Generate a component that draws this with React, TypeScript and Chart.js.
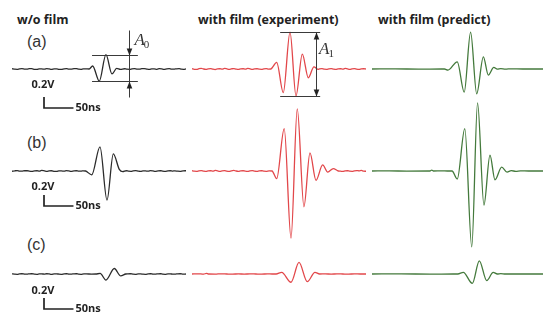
import React, { useEffect, useRef } from "react";
import { Chart, registerables } from "chart.js";

Chart.register(...registerables);

// ---------- data: [time (ns), voltage (V)] ----------
const woFilmA: [number, number][] = [
  [0, 0.005], [5, -0.004], [9, -0.006], [13, 0.003], [17, 0.008], [22, -0.002], [26, -0.004], [30, 0.006],
  [34, 0.005], [39, -0.006], [43, -0.008], [47, 0.003], [51, 0.003], [56, -0.004], [60, 0.008], [64, 0.002],
  [68, -0.005], [73, 0.004], [77, 0.003], [81, -0.006], [85, -0.008], [90, 0.004], [94, 0.006], [98, -0.003],
  [102, -0.003], [107, 0.006], [111, 0.008], [115, -0.004], [119, -0.005], [123, 0.004], [127, 0.003],
  [133, 0.0], [139, 0.055], [150.5, -0.22], [162, 0.26], [172.4, -0.09], [180.5, 0.01], [187, -0.008],
  [194, 0.005], [198, -0.004], [203, -0.006], [207, 0.004], [211, 0.008], [216, -0.003], [220, -0.003],
  [224, 0.005], [228, 0.006], [233, -0.004], [237, -0.008], [241, 0.002], [245, 0.003], [250, -0.005],
  [254, 0.006], [258, 0.002], [262, -0.006], [267, 0.004], [271, 0.008], [275, -0.002], [279, -0.003],
  [284, 0.004], [288, 0.006], [292, -0.004], [296, -0.005], [300, 0.003],
];
const expA: [number, number][] = [
  [0, 0.005], [4, -0.006], [8, -0.008], [12, 0.005], [16, 0.01], [20, 0.0], [24, -0.005], [28, 0.004],
  [32, 0.008], [36, -0.004], [40, -0.01], [44, 0.003], [48, 0.005], [52, -0.003], [56, 0.01], [60, 0.004],
  [64, -0.005], [68, 0.003], [72, 0.008], [76, -0.002], [80, -0.008], [84, 0.004], [88, 0.005], [92, -0.004],
  [96, 0.01], [100, 0.002], [104, -0.008], [108, 0.003], [112, 0.005], [116, -0.004], [120, -0.005],
  [124, 0.004], [128, 0.008], [132, -0.003], [136, 0.0], [146, 0.12], [157.4, -0.43], [169, 0.67],
  [179.3, -0.49], [190.2, 0.27], [200.5, -0.16], [210.3, 0.04], [217, -0.006], [220, 0.003], [224, 0.008],
  [228, -0.003], [232, -0.005], [236, 0.004], [240, 0.008], [244, -0.002], [248, -0.008], [252, 0.003],
  [256, 0.005], [260, -0.003], [264, 0.01], [268, 0.002], [272, -0.005], [276, 0.004], [280, 0.008],
  [284, -0.004], [288, -0.008], [292, 0.003], [296, 0.005], [300, 0.0],
];
const predA: [number, number][] = [
  [0, 0.0], [40, 0.002], [80, -0.002], [120, 0.0], [125, 0.0], [131, -0.02], [147, 0.13], [159, -0.42],
  [170, 0.67], [180.5, -0.45], [192, 0.22], [200.5, -0.11], [210, 0.03], [216, -0.004], [222, 0.006],
  [230, -0.003], [240, 0.004], [260, 0.0], [300, 0.0],
];

const woFilmB: [number, number][] = [
  [0, -0.005], [5, 0.004], [9, 0.008], [13, -0.002], [17, -0.003], [22, 0.005], [26, 0.005], [30, -0.004],
  [34, -0.008], [39, 0.003], [43, 0.005], [47, -0.003], [51, 0.01], [56, 0.002], [60, -0.005], [64, 0.003],
  [68, 0.005], [73, -0.005], [77, -0.008], [81, 0.003], [85, 0.003], [90, -0.004], [94, 0.008], [98, 0.002],
  [102, -0.005], [107, 0.004], [111, 0.005], [115, -0.003], [119, -0.003], [123, 0.004], [127, 0.0],
  [137.4, -0.07], [151.7, 0.44], [163.8, -0.53], [174.7, 0.31], [185, 0.03], [191, -0.012], [197, 0.005],
  [201, -0.003], [205, -0.005], [209, 0.004], [213, 0.008], [218, -0.002], [222, -0.005], [226, 0.004],
  [230, 0.003], [235, -0.004], [239, 0.008], [243, 0.002], [247, -0.005], [252, 0.004], [256, 0.005],
  [260, -0.004], [264, -0.008], [269, 0.003], [273, 0.005], [277, -0.002], [281, 0.003], [286, -0.004],
  [290, -0.005], [295, 0.004], [300, 0.005],
];
const expB: [number, number][] = [
  [0, 0.005], [4, -0.003], [8, -0.005], [12, 0.004], [16, 0.008], [20, -0.002], [24, -0.008], [28, 0.003],
  [32, 0.005], [36, -0.003], [40, 0.01], [44, 0.002], [48, -0.005], [52, 0.004], [56, 0.008], [60, -0.004],
  [64, -0.008], [68, 0.004], [72, 0.01], [76, 0.0], [80, -0.005], [84, 0.003], [88, 0.005], [92, -0.004],
  [96, -0.008], [100, 0.003], [104, 0.008], [108, -0.002], [112, -0.005], [116, 0.004], [120, 0.005],
  [124, -0.003], [128, -0.005], [133, 0.003], [138, 0.0], [146, -0.14], [159, 0.77], [170.7, -1.22],
  [181.5, 1.13], [193, -0.65], [203.4, 0.33], [213.8, -0.17], [225.3, 0.11], [234, -0.02], [243.6, 0.045],
  [252, 0.0], [256, -0.004], [260, -0.008], [264, 0.003], [268, 0.005], [272, -0.003], [276, -0.005],
  [280, 0.004], [284, 0.008], [288, 0.002], [292, 0.01], [296, -0.003], [300, -0.005],
];
const predB: [number, number][] = [
  [0, 0.0], [30, 0.002], [60, -0.002], [100, 0.0], [103, 0.015], [106, 0.0], [120, 0.003], [130, 0.0],
  [138, 0.0], [147, -0.145], [160, 0.77], [172, -1.38], [182, 1.24], [193, -0.62], [203.4, 0.29],
  [212, -0.16], [223.6, 0.07], [232.8, -0.02], [240, 0.006], [248, -0.006], [256, 0.004], [270, 0.0],
  [300, 0.0],
];

const woFilmC: [number, number][] = [
  [0, 0.003], [5, -0.003], [9, -0.005], [13, 0.003], [17, 0.005], [22, -0.002], [26, -0.003], [30, 0.004],
  [34, 0.005], [39, -0.003], [43, -0.005], [47, 0.002], [51, 0.003], [56, -0.003], [60, 0.005], [64, 0.001],
  [68, -0.005], [73, 0.003], [77, 0.003], [81, -0.003], [85, -0.005], [90, 0.003], [94, 0.005], [98, -0.002],
  [102, -0.003], [107, 0.004], [111, 0.005], [115, -0.003], [119, -0.005], [124, 0.003], [128, 0.003],
  [137, -0.003], [145, 0.0], [152, 0.01], [162, -0.11], [176.4, 0.1], [187.4, -0.035], [196, 0.0],
  [200, 0.004], [204, 0.005], [209, -0.003], [213, -0.005], [218, 0.003], [222, 0.003], [226, -0.004],
  [230, -0.005], [235, 0.003], [239, 0.005], [243, -0.002], [247, -0.003], [252, 0.004], [256, 0.005],
  [260, -0.003], [264, -0.005], [269, 0.003], [273, 0.003], [277, -0.003], [281, -0.003], [286, 0.004],
  [290, 0.005], [295, -0.002], [300, 0.0],
];
const expC: [number, number][] = [
  [0, 0.0], [10, 0.004], [20, -0.003], [25, 0.012], [28, 0.0], [40, -0.003], [50, 0.004], [60, 0.0],
  [70, -0.003], [80, 0.003], [90, -0.003], [100, 0.003], [110, 0.0], [120, -0.003], [130, 0.003], [138, 0.0],
  [145, 0.0], [154.6, 0.03], [170.7, -0.15], [184.5, 0.21], [198.8, -0.14], [212, 0.03], [220, 0.0],
  [230, 0.003], [240, -0.003], [250, 0.003], [260, 0.0], [270, -0.003], [280, 0.003], [290, 0.0],
  [300, 0.0],
];
const predC: [number, number][] = [
  [0, 0.0], [50, 0.002], [100, -0.002], [140, 0.0], [148, 0.0], [157.4, 0.03], [173, -0.17], [185, 0.24],
  [197.8, -0.12], [209, 0.03], [216, 0.0], [222, 0.008], [230, 0.0], [300, 0.0],
];

const columnTitles = ["w/o film", "with film (experiment)", "with film (predict)"];
const rowLabels = ["(a)", "(b)", "(c)"];
const traceColors = ["#2b2b2b", "#e2474a", "#447a3c"];
const seriesGrid = [
  [woFilmA, expA, predA],
  [woFilmB, expB, predB],
  [woFilmC, expC, predC],
];

// scale bar: 0.2 V, 50 ns
const SCALE_BAR_V = 0.2;
const SCALE_BAR_T = 50;

// ---------- layout ----------
const T_MIN = 0;
const T_MAX = 300;
const VOLT_PER_PX = 0.2 / 11;
const COL_LEFT = [12, 192, 372];
const PANEL_W = 174;
const ROWS = [
  { top: 24, bottom: 118, zero: 69, barBottomPx: 39, barLabelPx: 16 },
  { top: 98, bottom: 252, zero: 171, barBottomPx: 35, barLabelPx: 16 },
  { top: 236, bottom: 320, zero: 274, barBottomPx: 35, barLabelPx: 17 },
];

type Marker = {
  tFrom: number; tTo: number; tArrow: number; inward: boolean;
  extTop: number; extBot: number; labelT: number; labelOffPx: number; sub: string;
};

const overlayPlugin = {
  id: "overlay",
  afterDatasetsDraw(chart: any, _args: any, opts: any) {
    const ctx: CanvasRenderingContext2D = chart.ctx;
    const xs = chart.scales.x;
    const ys = chart.scales.y;
    if (opts.scaleBar) {
      const sb = opts.scaleBar;
      const x0 = Math.round(xs.getPixelForValue(sb.t0));
      const x1 = xs.getPixelForValue(sb.t0 + SCALE_BAR_T);
      const yb = Math.round(ys.getPixelForValue(sb.v0));
      const yt = ys.getPixelForValue(sb.v0 + SCALE_BAR_V);
      ctx.save();
      ctx.strokeStyle = "#222";
      ctx.lineWidth = 1.7;
      ctx.beginPath();
      ctx.moveTo(x0, yt);
      ctx.lineTo(x0, yb);
      ctx.lineTo(x1, yb);
      ctx.stroke();
      ctx.fillStyle = "#222";
      ctx.font = 'bold 11px "Open Sans"';
      ctx.textAlign = "center";
      ctx.textBaseline = "middle";
      ctx.fillText(SCALE_BAR_V + "V", x0 - 1, ys.getPixelForValue(sb.labelV));
      ctx.textAlign = "left";
      ctx.fillText(SCALE_BAR_T + "ns", x1 + 2, yb - 0.5);
      ctx.restore();
    }
    if (opts.marker) {
      const m: Marker = opts.marker;
      const vals = chart.data.datasets[0].data.map((p: any) => p.y);
      const yTop = Math.round(ys.getPixelForValue(Math.max(...vals))) + 0.5;
      const yBot = Math.round(ys.getPixelForValue(Math.min(...vals))) + 0.5;
      const xa = xs.getPixelForValue(m.tFrom);
      const xb = xs.getPixelForValue(m.tTo);
      const xv = Math.round(xs.getPixelForValue(m.tArrow)) + 0.5;
      ctx.save();
      ctx.strokeStyle = "#3a3a3a";
      ctx.fillStyle = "#222";
      ctx.lineWidth = 1;
      ctx.beginPath();
      ctx.moveTo(xa, yTop); ctx.lineTo(xb, yTop);
      ctx.moveTo(xa, yBot); ctx.lineTo(xb, yBot);
      ctx.moveTo(xv, yTop - m.extTop); ctx.lineTo(xv, yBot + m.extBot);
      ctx.stroke();
      const head = (tipY: number, dir: number) => {
        ctx.beginPath();
        ctx.moveTo(xv, tipY);
        ctx.lineTo(xv - 2.8, tipY - dir * 7);
        ctx.lineTo(xv + 2.8, tipY - dir * 7);
        ctx.closePath();
        ctx.fill();
      };
      if (m.inward) { head(yTop, 1); head(yBot, -1); } else { head(yTop, -1); head(yBot, 1); }
      const lx = xs.getPixelForValue(m.labelT);
      const ly = ys.getPixelForValue(0) - m.labelOffPx;
      ctx.fillStyle = "#333";
      ctx.textBaseline = "middle";
      ctx.textAlign = "left";
      ctx.font = 'italic 17px "Liberation Serif"';
      ctx.fillText("A", lx, ly);
      const w = ctx.measureText("A").width;
      ctx.font = '11px "Liberation Serif"';
      ctx.fillText(m.sub, lx + w - 1, ly + 4);
      ctx.restore();
    }
  },
};

const markers: (Marker | null)[][] = [
  [
    { tFrom: 138, tTo: 217, tArrow: 201, inward: true, extTop: 25, extBot: 16, labelT: 211, labelOffPx: 28, sub: "0" },
    { tFrom: 152, tTo: 221, tArrow: 213, inward: false, extTop: 0, extBot: 0, labelT: 219, labelOffPx: 19, sub: "1" },
    null,
  ],
  [null, null, null],
  [null, null, null],
];

function Panel({ row, col }: { row: number; col: number }) {
  const ref = useRef<HTMLCanvasElement | null>(null);
  const r = ROWS[row];
  const height = r.bottom - r.top;
  useEffect(() => {
    if (!ref.current) return;
    const series = seriesGrid[row][col];
    const overlay: any = {};
    if (col === 0) {
      overlay.scaleBar = {
        t0: 56,
        v0: -r.barBottomPx * VOLT_PER_PX,
        labelV: -r.barLabelPx * VOLT_PER_PX,
      };
    }
    if (markers[row][col]) overlay.marker = markers[row][col];
    const chart = new Chart(ref.current, {
      type: "line",
      data: {
        datasets: [
          {
            data: series.map(([t, v]) => ({ x: t, y: v })),
            borderColor: traceColors[col],
            borderWidth: 1.3,
            pointRadius: 0,
            fill: false,
            cubicInterpolationMode: "monotone",
          },
        ],
      },
      options: {
        animation: false,
        responsive: false,
        devicePixelRatio: 1,
        layout: { padding: 0 },
        scales: {
          x: { type: "linear", min: T_MIN, max: T_MAX, display: false },
          y: {
            type: "linear",
            min: -(r.bottom - r.zero) * VOLT_PER_PX,
            max: (r.zero - r.top) * VOLT_PER_PX,
            display: false,
          },
        },
        plugins: {
          legend: { display: false },
          tooltip: { enabled: false },
          overlay,
        } as any,
      },
      plugins: [overlayPlugin as any],
    });
    return () => chart.destroy();
  }, [row, col]);
  return (
    <canvas
      ref={ref}
      width={PANEL_W}
      height={height}
      style={{ position: "absolute", left: COL_LEFT[col], top: r.top, width: PANEL_W, height }}
    />
  );
}

const titleLeft = [17, 198, 378];

export default function App() {
  const panels: JSX.Element[] = [];
  for (let r = 0; r < 3; r++) for (let c = 0; c < 3; c++) panels.push(<Panel key={r + "-" + c} row={r} col={c} />);
  return (
    <div
      style={{
        position: "absolute", left: 0, top: 0, width: 543, height: 320,
        background: "#fff", overflow: "hidden",
      }}
    >
      {columnTitles.map((t, i) => (
        <div
          key={t}
          style={{
            position: "absolute", left: titleLeft[i], top: 11, lineHeight: "18px",
            font: 'bold 12.5px "Open Sans"', color: "#222", whiteSpace: "nowrap",
          }}
        >
          {t}
        </div>
      ))}
      {rowLabels.map((t, i) => (
        <div
          key={t}
          style={{
            position: "absolute", left: 27, top: [33, 134, 236][i], lineHeight: "18px",
            font: '16px "Liberation Sans"', color: "#333", whiteSpace: "nowrap",
          }}
        >
          {t}
        </div>
      ))}
      {panels}
    </div>
  );
}
